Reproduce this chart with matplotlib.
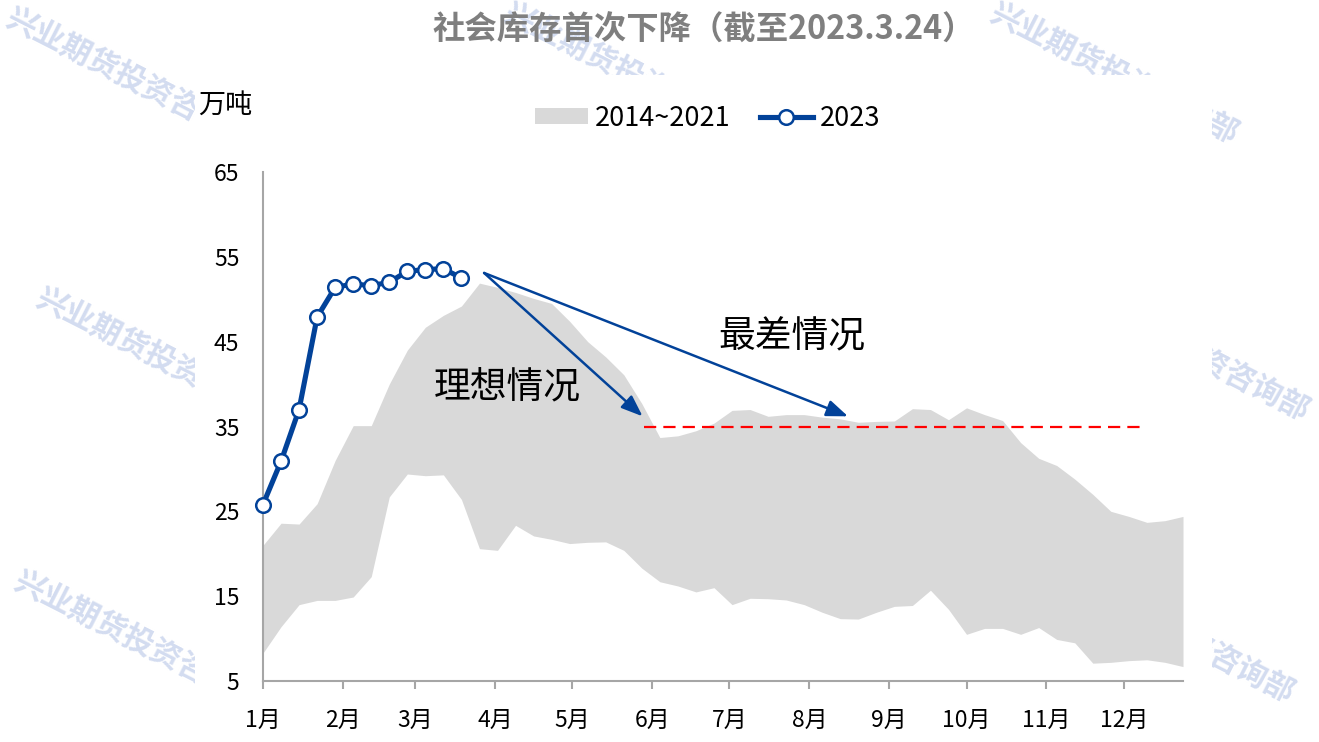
import numpy as np
import matplotlib
matplotlib.use("Agg")
import matplotlib.pyplot as plt
from matplotlib.patches import Rectangle

plt.rcParams['font.family'] = ['Noto Sans CJK SC', 'DejaVu Sans']

# ---------------- data ----------------
months = ['1月', '2月', '3月', '4月', '5月', '6月', '7月', '8月', '9月', '10月', '11月', '12月']
month_start_day = [0, 31, 59, 90, 120, 151, 181, 212, 243, 273, 304, 334]
week_index = np.arange(52)

band_upper = [21.0, 23.6, 23.5, 25.9, 31.0, 35.1, 35.1, 40.0, 44.0, 46.7, 48.1, 49.2, 51.9,
              51.4, 50.8, 50.1, 49.5, 47.4, 45.0, 43.2, 41.1, 37.7,
              33.7, 33.9, 34.5, 35.4, 36.9, 37.0, 36.2, 36.4, 36.4,
              36.1, 35.9, 35.5, 35.6, 35.65, 37.1, 37.0, 35.8, 37.2, 36.4, 35.7,
              33.1, 31.25, 30.4, 28.8, 27.0, 25.0, 24.4, 23.7, 23.9, 24.4]
band_lower = [8.3, 11.4, 14.0, 14.5, 14.5, 14.9, 17.3, 26.7, 29.4, 29.2, 29.3, 26.4,
              20.6, 20.4, 23.35, 22.1, 21.7, 21.2, 21.35, 21.4, 20.4, 18.3, 16.7, 16.2,
              15.5, 16.0, 14.0, 14.75, 14.7, 14.55, 14.0,
              13.1, 12.35, 12.3, 13.1, 13.8, 13.9, 15.7, 13.45, 10.5, 11.2, 11.2,
              10.5, 11.3, 9.9, 9.5, 7.1, 7.2, 7.4, 7.5, 7.2, 6.7]
values_2023 = [25.8, 30.9, 37.0, 47.9, 51.4, 51.8, 51.6, 52.0, 53.3, 53.5, 53.6, 52.5]

band_label = '2014~2021'
line_label = '2023'
title = '社会库存首次下降（截至2023.3.24）'
unit = '万吨'

target_level = 35
target_span_days = (148, 341)
arrow_start = (85.8, 53.1)
ideal_tip = (147.3, 36.2)
worst_tip = (227.0, 36.2)
ideal_text = ('理想情况', 94.7, 39.7)
worst_text = ('最差情况', 205.3, 45.55)

# ---------------- layout ----------------
W, H = 1319, 742
def fx(px):
    return px / W
def fy(py):
    return 1 - py / H

BLUE = '#024299'
GRAY_AX = '#a6a6a6'

fig = plt.figure(figsize=(W / 100, H / 100), dpi=100)
fig.patch.set_facecolor('white')

# watermarks (behind the chart area)
wm = '兴业期货投资咨询部'
wm_centers = [(130, 78), (160, 358), (138, 641), (628, 73), (1114, 73), (1185, 350), (1170, 632)]
for cx, cy in wm_centers:
    fig.text(fx(cx), fy(cy), wm, rotation=-27, rotation_mode='anchor',
             ha='center', va='center', fontsize=22, fontweight='bold',
             color='#d3dcf0', zorder=-3)
fig.add_artist(Rectangle((fx(195), 0), fx(1212) - fx(195), fy(75),
                         transform=fig.transFigure, facecolor='white',
                         edgecolor='none', zorder=-2))

ax = fig.add_axes([fx(263), fy(681), fx(1183) - fx(263), (681 - 172) / H])
ax.patch.set_alpha(0)

x_days = week_index * 7
ax.fill_between(x_days, band_lower, band_upper, color='#d9d9d9', lw=0, label=band_label)
ax.plot(x_days[:len(values_2023)], values_2023, color=BLUE, lw=3.7, marker='o', ms=10.5,
        mfc='white', mec=BLUE, mew=1.8, label=line_label, clip_on=False, zorder=5)

ax.plot(list(target_span_days), [target_level, target_level], color='#ff0000', lw=1.6,
        dashes=(5.5, 3.2), zorder=4)

for tip in (ideal_tip, worst_tip):
    ax.annotate('', xy=tip, xytext=arrow_start,
                arrowprops=dict(arrowstyle='-|>,head_length=1.3,head_width=0.5',
                                color=BLUE, lw=1.8, shrinkA=0, shrinkB=0), zorder=6)

for txt, tx, ty in (ideal_text, worst_text):
    ax.text(tx, ty, txt, ha='center', va='center', fontsize=26.5, color='black')

ax.set_xlim(0, 357)
ax.set_ylim(5, 65)
ax.set_yticks(np.arange(5, 66, 10))
ax.set_xticks(month_start_day)
ax.set_xticklabels(months)

for s in ('top', 'right'):
    ax.spines[s].set_visible(False)
for s in ('left', 'bottom'):
    ax.spines[s].set_color(GRAY_AX)
    ax.spines[s].set_linewidth(1.5)

ax.tick_params(axis='y', length=0, pad=17, labelsize=16.5)
ax.tick_params(axis='x', length=6, width=1.5, color=GRAY_AX, pad=14, labelsize=16.5)

fig.text(fx(704), fy(30), title, ha='center', va='center', fontsize=23.3,
         fontweight='bold', color='#7f7f7f')
fig.text(fx(225), fy(105), unit, ha='center', va='center', fontsize=19.5)

handles, labels = ax.get_legend_handles_labels()
fig.legend(handles, labels, loc='center', bbox_to_anchor=(fx(707.5), fy(118)), ncol=2,
           frameon=False, fontsize=19.5, handlelength=1.95, handleheight=0.55,
           handletextpad=0.25, columnspacing=1.1)

fig.savefig('out.png', dpi=100, facecolor='white')
